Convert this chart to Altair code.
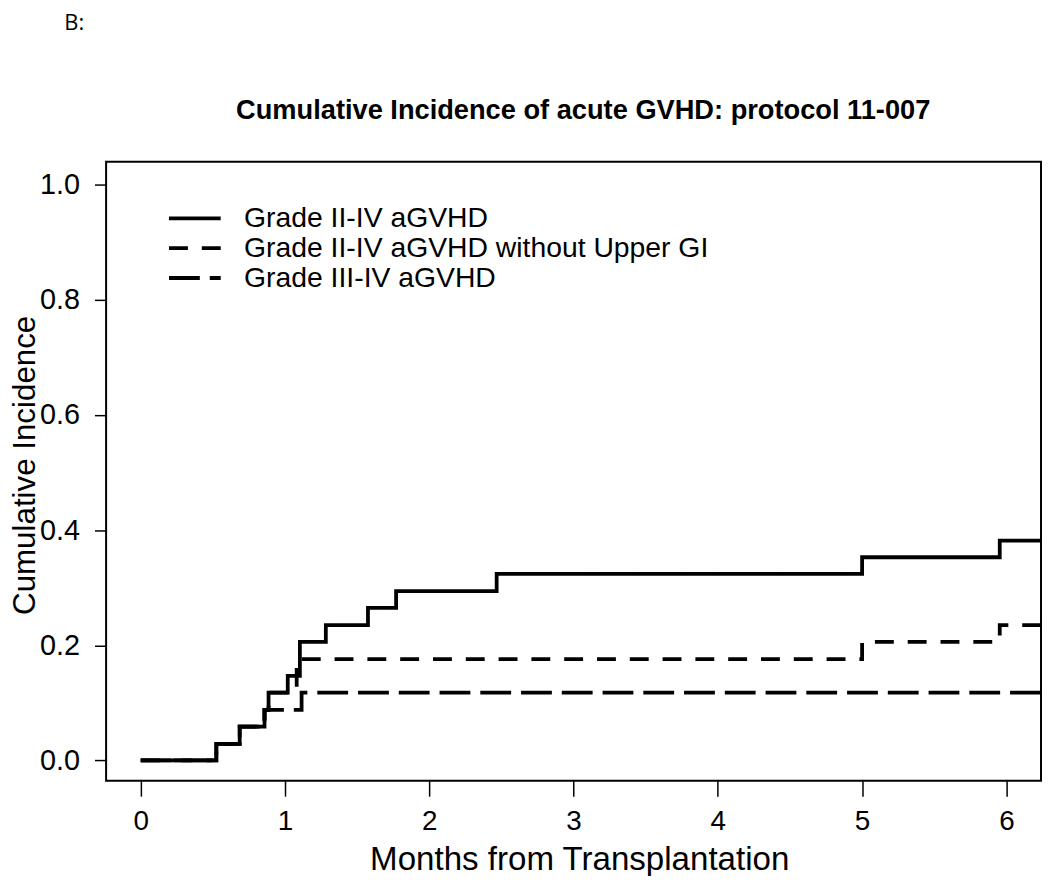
import altair as alt
import pandas as pd

# ---------------- data ----------------
series_names = [
    "Grade II-IV aGVHD",
    "Grade II-IV aGVHD without Upper GI",
    "Grade III-IV aGVHD",
]

g24_months = [0.0, 0.524, 0.686, 0.858, 0.886, 1.019, 1.103, 1.283, 1.575, 1.770, 2.467, 5.000, 5.954, 6.24]
g24_ci = [0.0, 0.029, 0.059, 0.088, 0.118, 0.147, 0.206, 0.235, 0.265, 0.294, 0.324, 0.353, 0.382, 0.382]

g24_nogi_months = [0.0, 0.524, 0.686, 0.858, 0.886, 1.081, 5.000, 5.954, 6.24]
g24_nogi_ci = [0.0, 0.029, 0.059, 0.088, 0.118, 0.176, 0.206, 0.235, 0.235]

g34_months = [0.0, 0.524, 0.686, 0.858, 1.115, 6.24]
g34_ci = [0.0, 0.029, 0.059, 0.088, 0.118, 0.118]

x_ticks = [0, 1, 2, 3, 4, 5, 6]
y_ticks = [0.0, 0.2, 0.4, 0.6, 0.8, 1.0]

panel_label = ["B:"]
main_title = ["Cumulative Incidence of acute GVHD: protocol 11-007"]

# ---------------- table ----------------
rows = []
for name, ms, vs in [
    (series_names[0], g24_months, g24_ci),
    (series_names[1], g24_nogi_months, g24_nogi_ci),
    (series_names[2], g34_months, g34_ci),
]:
    for i, (m, v) in enumerate(zip(ms, vs)):
        rows.append({"series": name, "month": m, "ci": v, "idx": i})
df = pd.DataFrame(rows)

FONT = "Liberation Sans, Arial, sans-serif"

x_axis = alt.Axis(
    values=x_ticks, format="d", domain=False, grid=False,
    tickSize=15.6, tickWidth=1.5, tickColor="black",
    labelFont=FONT, labelFontSize=28, labelColor="black", labelPadding=12, labelFlush=False,
    title="Months from Transplantation", titleFont=FONT, titleFontSize=33.3,
    titleFontWeight="normal", titleColor="black", titleX=476, titleY=89,
    titleBaseline="alphabetic", titleAlign="center",
)
y_axis = alt.Axis(
    values=y_ticks, format=".1f", domain=False, grid=False,
    tickSize=11.7, tickWidth=1.5, tickColor="black",
    labelFont=FONT, labelFontSize=29, labelColor="black", labelPadding=15,
    title="Cumulative Incidence", titleFont=FONT, titleFontSize=31.5,
    titleFontWeight="normal", titleColor="black",
    titleAngle=270, titleX=-72, titleY=305, titleBaseline="alphabetic", titleAlign="center",
)

lines = alt.Chart(df).mark_line(
    interpolate="step-after", color="black", strokeWidth=3.8, clip=True, strokeCap="butt"
).encode(
    x=alt.X("month:Q", scale=alt.Scale(domain=[-0.24, 6.24], nice=False, zero=False), axis=x_axis),
    y=alt.Y("ci:Q", scale=alt.Scale(domain=[-0.035, 1.04], nice=False, zero=False), axis=y_axis),
    strokeDash=alt.StrokeDash(
        "series:N",
        scale=alt.Scale(domain=series_names, range=[[1, 0], [19, 14], [31, 10]]),
        legend=alt.Legend(
            title=None, orient="none", legendX=74.3, legendY=42,
            symbolType="M-2,0H2", symbolSize=676, symbolStrokeWidth=3.8,
            symbolStrokeColor="black", symbolFillColor="transparent",
            labelFont=FONT, labelFontSize=28.5,
            labelColor="black", labelOffset=34.5, labelLimit=800, rowPadding=-4, padding=0,
        ),
    ),
    order="idx:Q",
)

blabel = alt.Chart(pd.DataFrame({"t": panel_label})).mark_text(
    align="left", baseline="alphabetic", fontSize=22, font="Open Sans, Carlito, sans-serif", color="black"
).encode(x=alt.value(-42), y=alt.value(-133), text="t:N")

tlabel = alt.Chart(pd.DataFrame({"t": main_title})).mark_text(
    align="center", baseline="alphabetic", fontSize=27.4, font=FONT, fontWeight="bold", color="black"
).encode(x=alt.value(480), y=alt.value(-43), text="t:N")

chart = alt.layer(lines, blabel, tlabel).properties(
    width=940.6,
    height=622.7,
    autosize=alt.AutoSizeParams(type="none"),
    padding={"left": 98.7, "top": 152, "right": 1, "bottom": 93.3},
).configure_view(stroke="black", strokeWidth=2)

chart.save("out.html", embed_options={"renderer": "svg", "actions": False})
